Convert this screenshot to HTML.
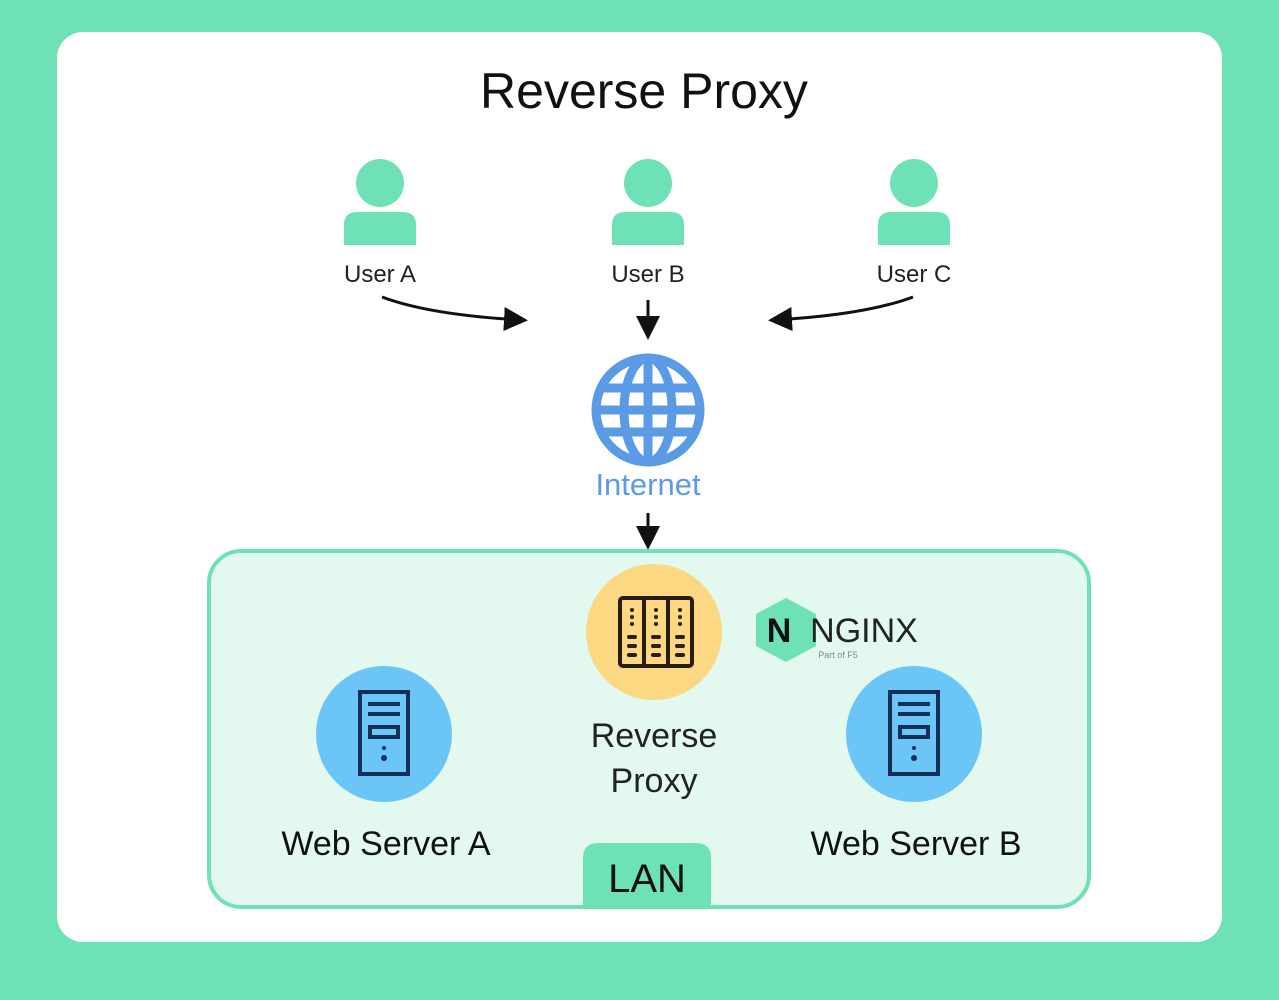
<!DOCTYPE html>
<html><head><meta charset="utf-8"><style>
html,body{margin:0;padding:0;background:#6fe1b6;}
svg{display:block;}
text{font-family:"Liberation Sans",sans-serif;}
</style></head><body>
<svg width="1279" height="1000" viewBox="0 0 1279 1000" xmlns="http://www.w3.org/2000/svg">
<defs>
<marker id="ah" markerWidth="8" markerHeight="8" refX="6" refY="4" orient="auto" markerUnits="strokeWidth">
<path d="M0,0 L8,4 L0,8 z" fill="#111"/></marker>
</defs>
<rect x="0" y="0" width="1279" height="1000" fill="#6fe1b6"/>
<rect x="57" y="32" width="1165" height="910" rx="26" fill="#fff"/>
<text x="644" y="108" font-size="50" text-anchor="middle" fill="#111">Reverse Proxy</text>

<g fill="#6fe1b6">
<circle cx="380" cy="183" r="24"/><path d="M344,245 V225 Q344,212 357,212 H403 Q416,212 416,225 V245 Z"/>
<circle cx="648" cy="183" r="24"/><path d="M612,245 V225 Q612,212 625,212 H671 Q684,212 684,225 V245 Z"/>
<circle cx="914" cy="183" r="24"/><path d="M878,245 V225 Q878,212 891,212 H937 Q950,212 950,225 V245 Z"/>
</g>
<g font-size="24" fill="#222" text-anchor="middle" font-weight="bold">
<text x="380" y="282" font-weight="normal">User A</text><text x="648" y="282" font-weight="normal">User B</text><text x="914" y="282" font-weight="normal">User C</text>
</g>
<g stroke="#111" stroke-width="3" fill="none" marker-end="url(#ah)">
<path d="M382,297 Q430,315 522,320"/>
<path d="M648,300 L648,334"/>
<path d="M913,297 Q865,315 774,320"/>
<path d="M648,513 L648,544"/>
<path d="M553,703 L468,735"/>
<path d="M740,703 L826,735"/>
</g>

<g stroke="#5b9be6" fill="none" stroke-width="9">
<circle cx="648" cy="410" r="52"/>
<ellipse cx="648" cy="410" rx="24" ry="52"/>
<line x1="648" y1="358" x2="648" y2="462"/>
<line x1="600" y1="388" x2="696" y2="388"/>
<line x1="596" y1="410" x2="700" y2="410"/>
<line x1="600" y1="432" x2="696" y2="432"/>
</g>
<text x="648" y="495" font-size="31" text-anchor="middle" fill="#5b9be6">Internet</text>

<rect x="209" y="551" width="880" height="356" rx="32" fill="#e3f8ef" stroke="#6fe1b6" stroke-width="4"/>
<path d="M583,907 V858 Q583,843 598,843 H696 Q711,843 711,858 V907 Z" fill="#6fe1b6"/>
<text x="647" y="892" font-size="40" text-anchor="middle" fill="#111">LAN</text>

<circle cx="654" cy="632" r="68" fill="#fdd882"/>
<g stroke="#2a1e10" stroke-width="4" fill="none">
<rect x="620" y="598" width="72" height="68" rx="3"/>
<line x1="644" y1="598" x2="644" y2="666"/><line x1="668" y1="598" x2="668" y2="666"/>
</g>
<g fill="#2a1e10">
<circle cx="632" cy="610" r="2"/><circle cx="632" cy="617" r="2"/><circle cx="632" cy="624" r="2"/>
<circle cx="656" cy="610" r="2"/><circle cx="656" cy="617" r="2"/><circle cx="656" cy="624" r="2"/>
<circle cx="680" cy="610" r="2"/><circle cx="680" cy="617" r="2"/><circle cx="680" cy="624" r="2"/>
<rect x="627" y="635" width="10" height="4" rx="2"/><rect x="627" y="644" width="10" height="4" rx="2"/><rect x="627" y="653" width="10" height="4" rx="2"/>
<rect x="651" y="635" width="10" height="4" rx="2"/><rect x="651" y="644" width="10" height="4" rx="2"/><rect x="651" y="653" width="10" height="4" rx="2"/>
<rect x="675" y="635" width="10" height="4" rx="2"/><rect x="675" y="644" width="10" height="4" rx="2"/><rect x="675" y="653" width="10" height="4" rx="2"/>
</g>
<g font-size="34" text-anchor="middle" fill="#222">
<text x="654" y="747">Reverse</text><text x="654" y="792">Proxy</text>
</g>

<polygon points="786,598 816,614 816,646 786,662 756,646 756,614" fill="#6fe1b6"/>
<text x="779" y="642" font-size="34" text-anchor="middle" fill="#111" font-weight="bold">N</text>
<text x="864" y="642" font-size="34" text-anchor="middle" fill="#222">NGINX</text>
<text x="838" y="658" font-size="9" text-anchor="middle" fill="#888">Part of F5</text>

<g>
<circle cx="384" cy="734" r="68" fill="#6cc5f7"/>
<circle cx="914" cy="734" r="68" fill="#6cc5f7"/>
</g>
<g stroke="#14305a" stroke-width="4" fill="none">
<rect x="360" y="692" width="48" height="82"/><rect x="370" y="727" width="28" height="10"/>
<rect x="890" y="692" width="48" height="82"/><rect x="900" y="727" width="28" height="10"/>
</g>
<g fill="#14305a">
<rect x="368" y="702" width="32" height="4"/><rect x="368" y="712" width="32" height="4"/>
<circle cx="384" cy="748" r="2"/><circle cx="384" cy="758" r="3"/>
<rect x="898" y="702" width="32" height="4"/><rect x="898" y="712" width="32" height="4"/>
<circle cx="914" cy="748" r="2"/><circle cx="914" cy="758" r="3"/>
</g>
<g font-size="34" text-anchor="middle" fill="#111">
<text x="386" y="855">Web Server A</text><text x="916" y="855">Web Server B</text>
</g>
</svg>
</body></html>
